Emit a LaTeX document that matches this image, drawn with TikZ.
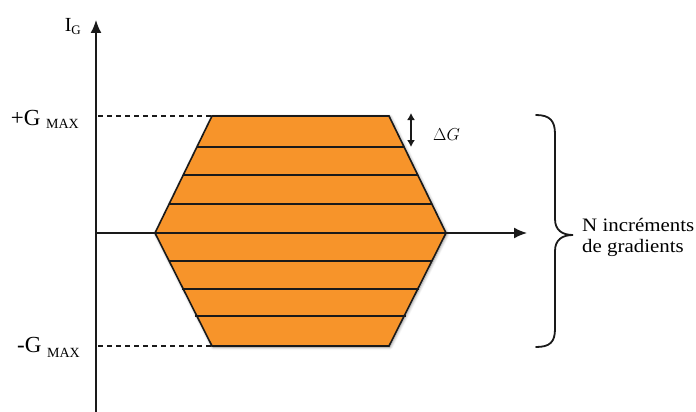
\documentclass[tikz,border=0pt]{standalone}
\usepackage{fontspec}
\setmainfont{Liberation Serif}
\newfontfamily\widefont[FakeStretch=1.10]{Liberation Serif}
\usetikzlibrary{arrows.meta,shadows.blur}
\definecolor{GradOrange}{HTML}{F7942A}
\definecolor{GradLine}{HTML}{1A1A1A}

\begin{document}
\begin{tikzpicture}[x=1pt,y=-1pt,line cap=butt,line join=miter,
  axis/.style={GradLine,line width=1.6pt,-{Latex[length=13pt,width=11pt]}},
  level/.style={GradLine,line width=1.3pt},
  guide/.style={GradLine,line width=1.2pt,dash pattern=on 5pt off 4pt},
  lbl/.style={font=\fontsize{23}{26}\selectfont,inner sep=0pt}]
  \useasboundingbox (0,0) rectangle (696,412);
  % axes
  \coordinate (origin) at (96,233);
  \coordinate (ytop) at (96,20);
  \coordinate (ybot) at (96,412);
  \coordinate (xend) at (527,233);
  \draw[axis] (ybot) -- (ytop);
  % trapezoid of gradient steps
  \filldraw[fill=GradOrange,draw=GradLine,line width=1.6pt,
    blur shadow={shadow xshift=1pt,shadow yshift=-1pt,shadow opacity=45,shadow blur steps=6,shadow blur radius=3pt}]
    (212,116) -- (389,116) -- (446,233) -- (389,346) -- (212,346) -- (155,233) -- cycle;
  \foreach \yy in {147,175,204,261,289,316} {
    \pgfmathsetmacro{\dx}{57*(1-abs(\yy-233)/117)}
    \draw[level] (212-\dx,\yy) -- (389+\dx,\yy);
  }
  \draw[axis] (96,233) -- (xend);
  % Gmax guides
  \coordinate (gmaxp) at (212,116);
  \coordinate (gmaxm) at (212,346);
  \draw[guide] (98,116) -- (gmaxp);
  \draw[guide] (98,346) -- (gmaxm);
  \node[lbl,anchor=base east] (pmax) at (79,125) {+G {\raisebox{-3pt}{\fontsize{14}{16}\selectfont MAX}}};
  \node[lbl,anchor=base east] (mmax) at (80,352) {-G {\raisebox{-5pt}{\fontsize{14}{16}\selectfont MAX}}};
  \node[font=\fontsize{20}{22}\selectfont,inner sep=0pt,anchor=base east] (ig) at (81,32) {I\raisebox{-3pt}{\fontsize{13}{15}\selectfont G}};
  % delta G
  \coordinate (dgtop) at (411,113);
  \coordinate (dgbot) at (411,147);
  \draw[GradLine,line width=1.3pt,{Latex[length=7pt,width=8pt]}-{Latex[length=7pt,width=8pt]}] (dgtop) -- (dgbot);
  \node[font=\fontsize{19}{21}\selectfont,anchor=base west,inner sep=0pt] (dg) at (433,140) {$\Delta G$};
  % brace
  \draw[GradLine,line width=1.8pt,line cap=round]
    (536,115) .. controls (550,115) and (555,121) .. (555,134) -- (555,219)
    .. controls (555,230) and (562,235) .. (573,235)
    .. controls (562,235) and (555,240) .. (555,251) -- (555,329)
    .. controls (555,342) and (550,347) .. (536,347);
  \node[font=\widefont\fontsize{19}{21}\selectfont,align=left,anchor=base west,inner sep=0pt] (nsteps) at (582,252) {N incréments\\de gradients};
\end{tikzpicture}
\end{document}
